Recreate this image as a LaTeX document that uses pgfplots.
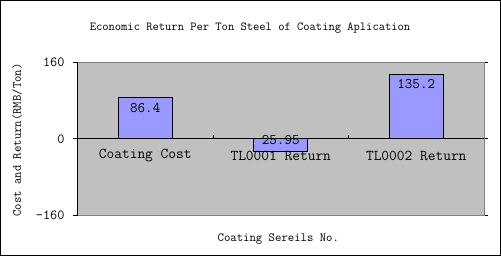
\documentclass[border=0pt]{standalone}
\usepackage{pgfplots}
\pgfplotsset{compat=1.18}
\usepackage{fontspec}
\setmainfont{Latin Modern Mono}
\definecolor{barblue}{HTML}{9999FF}
\definecolor{plotgray}{HTML}{C0C0C0}
\definecolor{bordergray}{HTML}{808080}
\begin{document}
\begin{tikzpicture}
\useasboundingbox (0pt,0pt) rectangle (501pt,257pt);
\draw[line width=1pt, fill=white] (0.5pt,1pt) rectangle (500pt,256.5pt);
\begin{axis}[
  at={(77.5pt,41.3pt)}, anchor=south west,
  scale only axis, width=406.5pt, height=153.4pt,
  xmin=0.5, xmax=3.5, ymin=-160, ymax=160,
  xtick=\empty, ytick={-160,0,160},
  tick align=outside, major tick length=4pt,
  ytick style={black, line width=1pt},
  axis line style={bordergray, line width=1pt},
  axis background/.style={fill=plotgray},
  clip=false,
  /pgf/number format/assume math mode=true,
  yticklabel style={font=\fontsize{13.9}{15}\selectfont, xshift=-5.5pt},
  title={Economic Return Per Ton Steel of Coating Aplication},
  title style={at={(axis description cs:0.4244,1.182)}, anchor=center, yshift=0pt, font=\fontsize{12.2}{14}\selectfont},
  xlabel={Coating Sereils No.},
  xlabel style={at={(axis description cs:0.494,-0.152)}, anchor=center, font=\fontsize{12.4}{14}\selectfont},
  ylabel={Cost and Return(RMB/Ton)},
  ylabel style={at={(axis description cs:-0.1488,0.4935)}, anchor=center, font=\fontsize{12.4}{14}\selectfont},
]
\addplot[ybar, bar shift=0pt, bar width=54pt, fill=barblue, draw=black, line width=1pt,
  nodes near coords, nodes near coords style={anchor=center, yshift=-10pt, font=\fontsize{14.6}{16}\selectfont}]
  coordinates {(1,86.4) (3,135.2)};
\addplot[ybar, bar shift=0pt, bar width=54pt, fill=barblue, draw=black, line width=1pt,
  point meta=explicit symbolic,
  nodes near coords, nodes near coords style={anchor=center, yshift=11.5pt, font=\fontsize{14.6}{16}\selectfont}]
  coordinates {(2,-25.95) [25.95]};
\draw[black, line width=1pt] (axis cs:0.5,0) -- (axis cs:3.5,0);
\draw[black, line width=1pt] (rel axis cs:0,0) -- (rel axis cs:0,1);
\draw[black, line width=1pt] (axis cs:1.5,0) -- ++(0pt,4pt);
\draw[black, line width=1pt] (axis cs:2.5,0) -- ++(0pt,4pt);
\node[font=\fontsize{15}{17}\selectfont] at (axis cs:1,-35) {Coating Cost};
\node[font=\fontsize{15}{17}\selectfont] at (axis cs:2,-35) {TL0001 Return};
\node[font=\fontsize{15}{17}\selectfont] at (axis cs:3,-35) {TL0002 Return};
\end{axis}
\end{tikzpicture}
\end{document}
